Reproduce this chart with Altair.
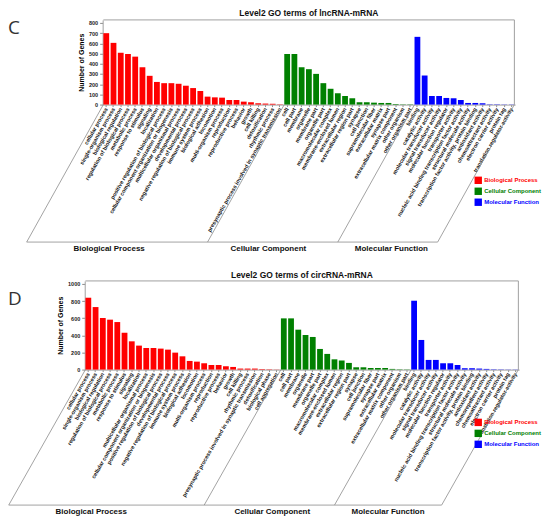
import altair as alt
import pandas as pd

# ---------------- data ----------------
GROUPS = ["Biological Process", "Cellular Component", "Molecular Function"]
COLORS = ["#ff0000", "#008000", "#0000ff"]

c_bp_terms = ["cellular process", "single-organism process", "biological regulation",
              "regulation of biological process", "metabolic process", "response to stimulus",
              "signaling", "localization", "positive regulation of biological process",
              "cellular component organization or biogenesis", "multicellular organismal process",
              "developmental process", "negative regulation of biological process",
              "immune system process", "biological adhesion", "locomotion", "multi-organism process",
              "reproduction", "reproductive process", "behavior", "growth", "cell killing",
              "detoxification", "rhythmic process",
              "presynaptic process involved in synaptic transmission"]
c_bp_vals = [700, 605, 508, 496, 470, 366, 282, 222, 210, 210, 204, 185, 162, 133,
             78, 71, 68, 45, 45, 29, 23, 13, 10, 8, 3]

c_cc_terms = ["cell", "cell part", "membrane", "organelle", "membrane part", "organelle part",
              "macromolecular complex", "membrane-enclosed lumen", "extracellular region",
              "extracellular region part", "synapse", "cell junction", "supramolecular fiber",
              "extracellular matrix", "synapse part", "extracellular matrix component",
              "other organism", "other organism part"]
c_cc_vals = [496, 496, 366, 347, 301, 210, 155, 110, 84, 62, 23, 23, 19, 16, 16, 6, 3, 3]

c_mf_terms = ["binding", "catalytic activity", "molecular transducer activity",
              "signal transducer activity", "molecular function regulator", "transporter activity",
              "nucleic acid binding transcription factor activity", "structural molecule activity",
              "transcription factor activity, protein binding", "antioxidant activity",
              "chemoattractant activity", "electron carrier activity", "protein tag",
              "translation regulator activity"]
c_mf_vals = [664, 285, 84, 84, 65, 62, 45, 16, 16, 13, 3, 3, 2, 2]

d_bp_terms = ["cellular process", "single-organism process", "biological regulation",
              "regulation of biological process", "metabolic process", "response to stimulus",
              "signaling", "localization", "multicellular organismal process",
              "cellular component organization or biogenesis",
              "positive regulation of biological process", "developmental process",
              "negative regulation of biological process", "immune system process",
              "biological adhesion", "locomotion", "multi-organism process", "reproduction",
              "reproductive process", "behavior", "growth", "cell killing", "rhythmic process",
              "presynaptic process involved in synaptic transmission", "detoxification",
              "biological phase", "cell aggregation"]
d_bp_vals = [839, 730, 602, 583, 555, 431, 330, 280, 252, 252, 245, 233, 198, 155,
             101, 93, 74, 54, 54, 39, 31, 12, 12, 12, 6, 4, 2]

d_cc_terms = ["cell", "cell part", "membrane", "organelle", "membrane part", "organelle part",
              "macromolecular complex", "membrane-enclosed lumen", "extracellular region",
              "extracellular region part", "synapse", "cell junction", "supramolecular fiber",
              "synapse part", "extracellular matrix", "extracellular matrix component",
              "other organism", "other organism part"]
d_cc_vals = [598, 598, 466, 404, 381, 241, 183, 120, 105, 78, 27, 27, 19, 19, 19, 8, 4, 3]

d_mf_terms = ["binding", "catalytic activity", "molecular transducer activity",
              "signal transducer activity", "molecular function regulator", "transporter activity",
              "nucleic acid binding transcription factor activity", "structural molecule activity",
              "transcription factor activity, protein binding", "antioxidant activity",
              "chemorepellent activity", "chemoattractant activity", "electron carrier activity",
              "protein tag", "translation regulator activity"]
d_mf_vals = [804, 346, 113, 113, 74, 74, 54, 16, 16, 12, 8, 4, 3, 2, 2]

c_yticks = [0, 100, 200, 300, 400, 500, 600, 700, 800]
d_yticks = [0, 200, 400, 600, 800, 1000]

FONT = "Liberation Sans"
LINE = "#8c8c8c"
FRAME = "#a0a0a0"
DX = -77

label_color_expr = ("datum.value === 'Biological Process' ? '#ff0000' : "
                    "datum.value === 'Cellular Component' ? '#008000' : '#0000ff'")


def panel(letter, title, bp_t, bp_v, cc_t, cc_v, mf_t, mf_v, ymax, yticks,
          width, shift, height, dy, anchors, legend_xy, letter_xy):
    terms = bp_t + cc_t + mf_t
    groups = [GROUPS[0]] * len(bp_t) + [GROUPS[1]] * len(cc_t) + [GROUPS[2]] * len(mf_t)
    df = pd.DataFrame({"term": terms, "genes": bp_v + cc_v + mf_v, "group": groups})
    xscale = alt.Scale(domain=terms, paddingInner=0.2, paddingOuter=0.1,
                       range=[shift, shift + width])
    xaxis = alt.Axis(labelAngle=-60, labelFontSize=5.5, labelFontWeight="bold",
                     labelColor="#111", labelFont=FONT, labelPadding=1,
                     labelLimit=300, tickSize=2, tickColor=LINE,
                     domainColor=FRAME, title=None)

    def xenc(field, bp=None):
        if bp is None:
            return alt.X(field + ":N", scale=xscale, sort=None, axis=xaxis)
        return alt.X(field + ":N", scale=xscale, sort=None, axis=xaxis, bandPosition=bp)

    bars = alt.Chart(df).mark_bar().encode(
        x=xenc("term"),
        y=alt.Y("genes:Q", scale=alt.Scale(domain=[0, ymax], nice=False),
                axis=alt.Axis(values=yticks, format="d", title="Number of Genes",
                              titleFontSize=7, titleFont=FONT, titleFontWeight="bold",
                              titlePadding=4, labelFontSize=5.5, labelFontWeight="bold",
                              labelFont=FONT, labelColor="#222", tickSize=3,
                              tickColor=LINE, domainColor=FRAME, grid=False,
                              labelPadding=2, offset=-shift)),
        color=alt.Color("group:N", scale=alt.Scale(domain=GROUPS, range=COLORS),
                        legend=alt.Legend(orient="none", legendX=legend_xy[0],
                                          legendY=legend_xy[1], title=None,
                                          symbolType="square", symbolSize=55,
                                          symbolStrokeWidth=0, labelFontSize=6,
                                          labelFont=FONT, labelFontWeight="bold",
                                          rowPadding=3, padding=0, labelOffset=2,
                                          labelColor=alt.ExprRef(label_color_expr))),
    )

    # plot frame (top and right edges)
    frame_df = pd.DataFrame({"first": [bp_t[0]], "last": [mf_t[-1]]})
    frame_top = alt.Chart(frame_df).mark_rule(color=FRAME, strokeWidth=1).encode(
        x=xenc("first", 0), x2=alt.X2("last", bandPosition=1), y=alt.value(0))
    frame_right = alt.Chart(frame_df).mark_rule(color=FRAME, strokeWidth=1).encode(
        x=xenc("last", 1), y=alt.value(0), y2=alt.value(height))

    left_df = pd.DataFrame({"term": [bp_t[0], cc_t[0], mf_t[0]]})
    slants_left = alt.Chart(left_df).mark_rule(color=LINE, strokeWidth=0.8, x2Offset=DX).encode(
        x=xenc("term", 0), x2=alt.X2("term", bandPosition=0),
        y=alt.value(height), y2=alt.value(height + dy))

    right_df = pd.DataFrame({"term": [mf_t[-1]]})
    slant_right = alt.Chart(right_df).mark_rule(color=LINE, strokeWidth=0.8, x2Offset=DX).encode(
        x=xenc("term", 1), x2=alt.X2("term", bandPosition=1),
        y=alt.value(height), y2=alt.value(height + dy))

    base_line = alt.Chart(frame_df).mark_rule(color=LINE, strokeWidth=0.8,
                                              xOffset=DX, x2Offset=DX).encode(
        x=xenc("first", 0), x2=alt.X2("last", bandPosition=1),
        y=alt.value(height + dy))

    glab_df = pd.DataFrame({"term": [bp_t[anchors[0]], cc_t[anchors[1]], mf_t[anchors[2]]],
                            "label": GROUPS})
    group_labels = alt.Chart(glab_df).mark_text(dx=DX, fontSize=8, fontWeight="bold",
                                                font=FONT, baseline="top", align="center",
                                                color="#111").encode(
        x=xenc("term"), y=alt.value(height + dy + 3), text="label:N")

    letter_df = pd.DataFrame({"t": [letter]})
    letter_mark = alt.Chart(letter_df).mark_text(fontSize=19, font="Open Sans",
                                                 align="left", baseline="middle",
                                                 color="#333").encode(
        x=alt.value(letter_xy[0]), y=alt.value(letter_xy[1]), text="t:N")

    return alt.layer(bars, frame_top, frame_right, slants_left, slant_right, base_line,
                     group_labels, letter_mark).properties(
        width=shift + width, height=height,
        title=alt.TitleParams(title, fontSize=8.5, fontWeight="bold", font=FONT,
                              offset=1, anchor="middle", frame="group", color="#111",
                              dx=shift / 2))


chart_c = panel("C", "Level2 GO terms of lncRNA-mRNA",
                c_bp_terms, c_bp_vals, c_cc_terms, c_cc_vals, c_mf_terms, c_mf_vals,
                830, c_yticks, 414, 18, 85, 138, (11, 8, 7), (391, 157), (-77, 8))
chart_d = panel("D", "Level2 GO terms of circRNA-mRNA",
                d_bp_terms, d_bp_vals, d_cc_terms, d_cc_vals, d_mf_terms, d_mf_vals,
                1035, d_yticks, 436, 0, 89, 136, (11, 9, 7), (391, 138), (-77, 18))

chart = alt.concat(chart_c, chart_d, columns=1, spacing=18).resolve_scale(
    x="independent", y="independent", color="independent"
).resolve_legend(color="independent").properties(
    padding={"left": 0, "top": 0, "right": 0, "bottom": 0}
).configure_view(strokeWidth=0)

chart.save("out.html", embed_options={"renderer": "svg", "actions": False})
